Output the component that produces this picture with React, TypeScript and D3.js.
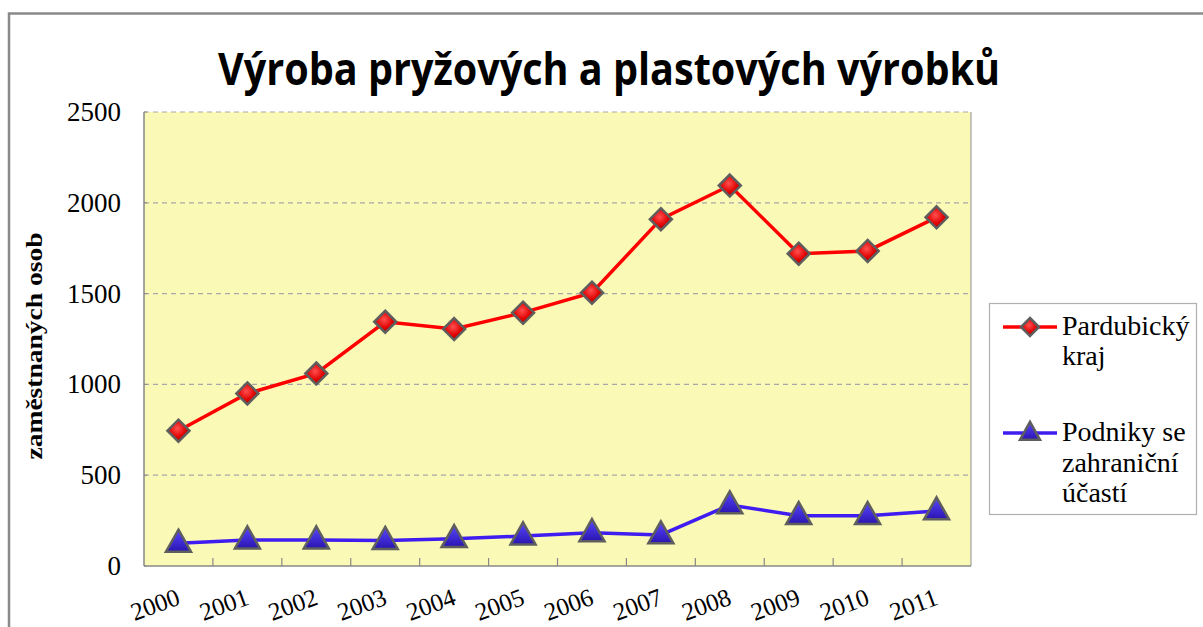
import React from 'react';
import * as d3 from 'd3';

const years = ['2000', '2001', '2002', '2003', '2004', '2005', '2006', '2007', '2008', '2009', '2010', '2011'];
const pardubicky = [745, 950, 1060, 1345, 1305, 1395, 1505, 1910, 2095, 1720, 1735, 1920];
const zahranicni = [125, 143, 143, 140, 150, 165, 183, 171, 336, 277, 277, 303];
const yTicks = [0, 500, 1000, 1500, 2000, 2500];

const W = 1203;
const H = 627;
const plot = { left: 144, right: 971, top: 112, bottom: 566 };

const serif = { fontFamily: "'Liberation Serif', 'Times New Roman', serif" };

export default function App() {
  const x = d3.scaleBand<string>().domain(years).range([plot.left, plot.right]);
  const y = d3.scaleLinear().domain([0, 2500]).range([plot.bottom, plot.top]);
  const cx = (d: string) => (x(d) ?? 0) + x.bandwidth() / 2;

  const line = d3.line<number>()
    .x((_, i) => cx(years[i]))
    .y((v) => y(v));

  const diamond = (s: number) => `M0,${-s}L${s},0L0,${s}L${-s},0Z`;
  const triangle = (w: number, h: number) => `M0,${-h * 0.62}L${w / 2},${h * 0.38}L${-w / 2},${h * 0.38}Z`;

  return (
    <svg width={W} height={H} style={{ position: 'absolute', left: 0, top: 0, background: '#fff' }}>
      <defs>
        <radialGradient id="redG" cx="45%" cy="40%" r="65%">
          <stop offset="0%" stopColor="#ff5050" />
          <stop offset="60%" stopColor="#e00000" />
          <stop offset="100%" stopColor="#900000" />
        </radialGradient>
        <linearGradient id="blueG" x1="0" y1="0" x2="0" y2="1">
          <stop offset="0%" stopColor="#5a48ff" />
          <stop offset="100%" stopColor="#2a14b0" />
        </linearGradient>
      </defs>

      {/* outer frame */}
      <rect x={9} y={13.5} width={1400} height={800} fill="none" stroke="#8a8a8a" strokeWidth={2.5} />

      {/* title */}
      <text x={609} y={85} textAnchor="middle" style={{ fontFamily: "'Open Sans', 'Noto Sans', sans-serif" }}
        fontWeight="bold" fontSize={44} textLength={782} lengthAdjust="spacingAndGlyphs" fill="#000">
        Výroba pryžových a plastových výrobků
      </text>

      {/* plot area */}
      <rect x={plot.left} y={plot.top} width={plot.right - plot.left} height={plot.bottom - plot.top} fill="#fbf9b6" />

      {yTicks.filter((t) => t > 0).map((t) => (
        <line key={t} x1={plot.left} x2={plot.right} y1={y(t)} y2={y(t)}
          stroke="#a8a8a8" strokeWidth={1.2} strokeDasharray="5 4" />
      ))}

      <line x1={plot.right} x2={plot.right} y1={plot.top} y2={plot.bottom} stroke="#a0a0a0" strokeWidth={1.2} />
      <line x1={plot.left} x2={plot.left} y1={plot.top} y2={plot.bottom} stroke="#888" strokeWidth={1.5} />
      <line x1={plot.left} x2={plot.right} y1={plot.bottom} y2={plot.bottom} stroke="#888" strokeWidth={1.5} />

      {yTicks.map((t) => (
        <g key={t}>
          <line x1={plot.left} x2={plot.left + 3} y1={y(t)} y2={y(t)} stroke="#888" />
          <text x={121} y={y(t) + 9} textAnchor="end" style={serif} fontSize={27} fill="#000">{t}</text>
        </g>
      ))}

      {years.slice(1).map((yr) => (
        <line key={yr} x1={x(yr)} x2={x(yr)} y1={plot.bottom} y2={plot.bottom - 8} stroke="#888" strokeWidth={1.2} />
      ))}

      {years.map((yr) => (
        <text key={yr} transform={`translate(${cx(yr) + 3},${604}) rotate(-20)`} textAnchor="end"
          style={serif} fontSize={25} fill="#000">{yr}</text>
      ))}

      <text transform="translate(42,346) rotate(-90)" textAnchor="middle" style={serif}
        fontWeight="bold" fontSize={24} textLength={227} lengthAdjust="spacingAndGlyphs" fill="#000">
        zaměstnaných osob
      </text>

      {/* series */}
      <path d={line(pardubicky) ?? ''} fill="none" stroke="#ff0000" strokeWidth={3.5} />
      <path d={line(zahranicni) ?? ''} fill="none" stroke="#3f1cf0" strokeWidth={3.5} />

      {pardubicky.map((v, i) => (
        <path key={i} d={diamond(11)} transform={`translate(${cx(years[i])},${y(v)})`}
          fill="url(#redG)" stroke="#5e5e5e" strokeWidth={2.5} />
      ))}
      {zahranicni.map((v, i) => (
        <path key={i} d={triangle(25, 22)} transform={`translate(${cx(years[i])},${y(v)})`}
          fill="url(#blueG)" stroke="#5e5e5e" strokeWidth={2.5} />
      ))}

      {/* legend */}
      <rect x={989.5} y={303.5} width={207} height={211} fill="#fff" stroke="#b0b0b0" strokeWidth={1.2} />
      <line x1={1003} x2={1057} y1={327} y2={327} stroke="#ff0000" strokeWidth={3.5} />
      <path d={diamond(9)} transform="translate(1030,327)" fill="url(#redG)" stroke="#5e5e5e" strokeWidth={2.5} />
      <line x1={1003} x2={1057} y1={433} y2={433} stroke="#3f1cf0" strokeWidth={3.5} />
      <path d={triangle(20, 18)} transform="translate(1030,433)" fill="url(#blueG)" stroke="#5e5e5e" strokeWidth={2.5} />

      <g style={serif} fontSize={28} fill="#000">
        <text x={1062} y={335}>Pardubický</text>
        <text x={1062} y={365}>kraj</text>
        <text x={1062} y={441}>Podniky se</text>
        <text x={1062} y={472}>zahraniční</text>
        <text x={1062} y={502}>účastí</text>
      </g>
    </svg>
  );
}
